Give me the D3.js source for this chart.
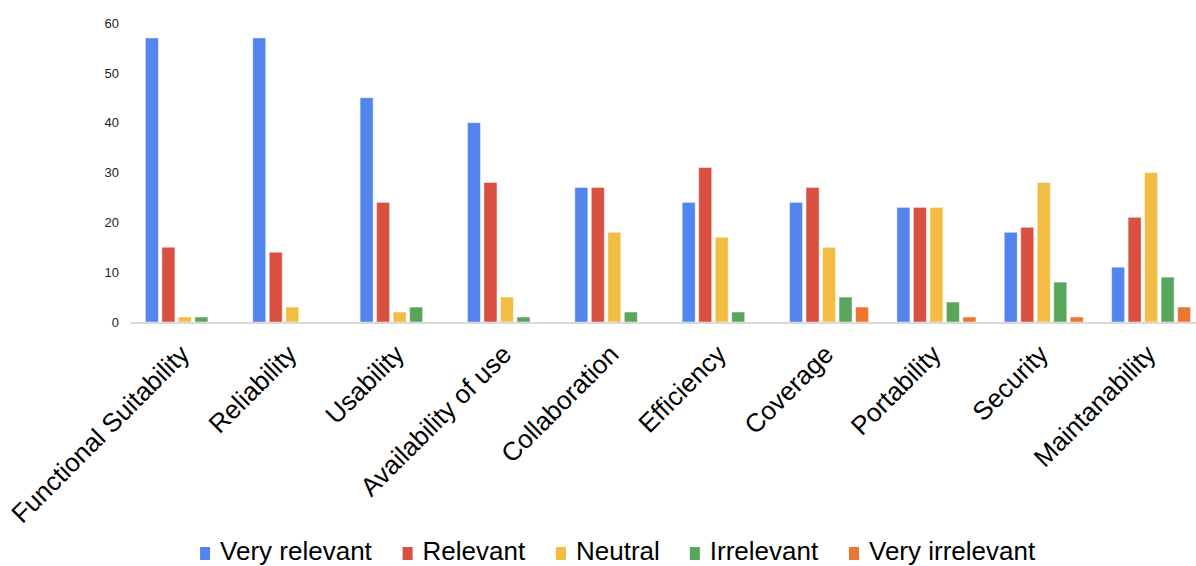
<!DOCTYPE html>
<html>
<head>
<meta charset="utf-8">
<script src="https://cdn.jsdelivr.net/npm/d3@7"></script>
<style>
  body { margin: 0; background: #fff; }
  svg { display: block; font-family: 'Liberation Sans', Arial, sans-serif; }
</style>
</head>
<body>
<script>
const CATEGORIES = ['Functional Suitability', 'Reliability', 'Usability', 'Availability of use', 'Collaboration',
    'Efficiency', 'Coverage', 'Portability', 'Security', 'Maintanability'];
const SERIES = ['Very relevant', 'Relevant', 'Neutral', 'Irrelevant', 'Very irrelevant'];
const VERY_RELEVANT = [57, 57, 45, 40, 27, 24, 24, 23, 18, 11];
const RELEVANT = [15, 14, 24, 28, 27, 31, 27, 23, 19, 21];
const NEUTRAL = [1, 3, 2, 5, 18, 17, 15, 23, 28, 30];
const IRRELEVANT = [1, 0, 3, 1, 2, 2, 5, 4, 8, 9];
const VERY_IRRELEVANT = [0, 0, 0, 0, 0, 0, 3, 1, 1, 3];
const Y_TICKS = [0, 10, 20, 30, 40, 50, 60];

const COLORS = ['#5484ed', '#d95040', '#f2bd42', '#58a55c', '#ed7532'];

const SVG_DIM = {W: 1196, H: 566};
const PLOT = {LEFT: 131, RIGHT: 1205, TOP: 23, BOTTOM: 322};

const values = [VERY_RELEVANT, RELEVANT, NEUTRAL, IRRELEVANT, VERY_IRRELEVANT];

const svg = d3.select('body').append('svg')
    .attr('width', SVG_DIM.W)
    .attr('height', SVG_DIM.H);

// scales
const x0 = d3.scaleBand()
    .domain(CATEGORIES)
    .range([PLOT.LEFT, PLOT.RIGHT])
    .paddingInner(0.264)
    .paddingOuter(0.134);

const x1 = d3.scaleBand()
    .domain(SERIES)
    .range([0, x0.bandwidth()])
    .paddingInner(0.212);

const y = d3.scaleLinear()
    .domain([0, 60])
    .range([PLOT.BOTTOM, PLOT.TOP]);

// y axis (labels only)
const yAxis = d3.axisLeft(y)
    .tickValues(Y_TICKS)
    .tickSize(0)
    .tickPadding(12);

svg.append('g')
    .attr('transform', 'translate(' + PLOT.LEFT + ',0)')
    .call(yAxis)
    .call(g => g.select('.domain').remove())
    .selectAll('text')
    .attr('font-size', 13)
    .attr('font-family', 'Liberation Sans, Arial, sans-serif')
    .attr('fill', '#222');

// bars
const groups = svg.append('g')
    .selectAll('g')
    .data(CATEGORIES)
    .enter()
    .append('g')
    .attr('transform', d => 'translate(' + x0(d) + ',0)');

groups.selectAll('rect')
    .data((d, i) => SERIES.map((s, j) => ({series: s, value: values[j][i], color: COLORS[j]})))
    .enter()
    .filter(d => d.value > 0)
    .append('rect')
    .attr('x', d => x1(d.series))
    .attr('y', d => y(d.value))
    .attr('width', x1.bandwidth())
    .attr('height', d => y(0) - y(d.value))
    .attr('fill', d => d.color)
    .attr('stroke', 'rgba(255,255,255,0.45)')
    .attr('stroke-width', 1);

// baseline
svg.append('line')
    .attr('x1', PLOT.LEFT)
    .attr('x2', SVG_DIM.W)
    .attr('y1', y(0) + 1)
    .attr('y2', y(0) + 1)
    .attr('stroke', '#d9d9d9')
    .attr('stroke-width', 2);

// x axis labels, rotated
const xAxis = d3.axisBottom(x0).tickSize(0).tickPadding(0);
svg.append('g')
    .attr('transform', 'translate(0,' + PLOT.BOTTOM + ')')
    .call(xAxis)
    .call(g => g.select('.domain').remove())
    .selectAll('text')
    .attr('font-size', 26)
    .attr('font-family', 'Liberation Sans, Arial, sans-serif')
    .attr('fill', '#000')
    .attr('text-anchor', 'end')
    .attr('dy', 0)
    .attr('y', 0)
    .attr('transform', 'translate(6,34) rotate(-45)');

// legend
const legend = svg.append('g').attr('class', 'legend');
const items = legend.selectAll('g')
    .data(SERIES)
    .enter()
    .append('g');

items.append('rect')
    .attr('width', 10)
    .attr('height', 13)
    .attr('y', -13)
    .attr('fill', (d, i) => COLORS[i]);

items.append('text')
    .attr('x', 20)
    .attr('font-size', 26)
    .attr('fill', '#000')
    .text(d => d);

const GAP = 30;
let offset = 0;
items.each(function () {
    const w = this.getBBox().width;
    d3.select(this).attr('transform', 'translate(' + offset + ',0)');
    offset += w + GAP;
});
const legendW = offset - GAP;
legend.attr('transform', 'translate(' + (618 - legendW / 2) + ',560)');
</script>
</body>
</html>
